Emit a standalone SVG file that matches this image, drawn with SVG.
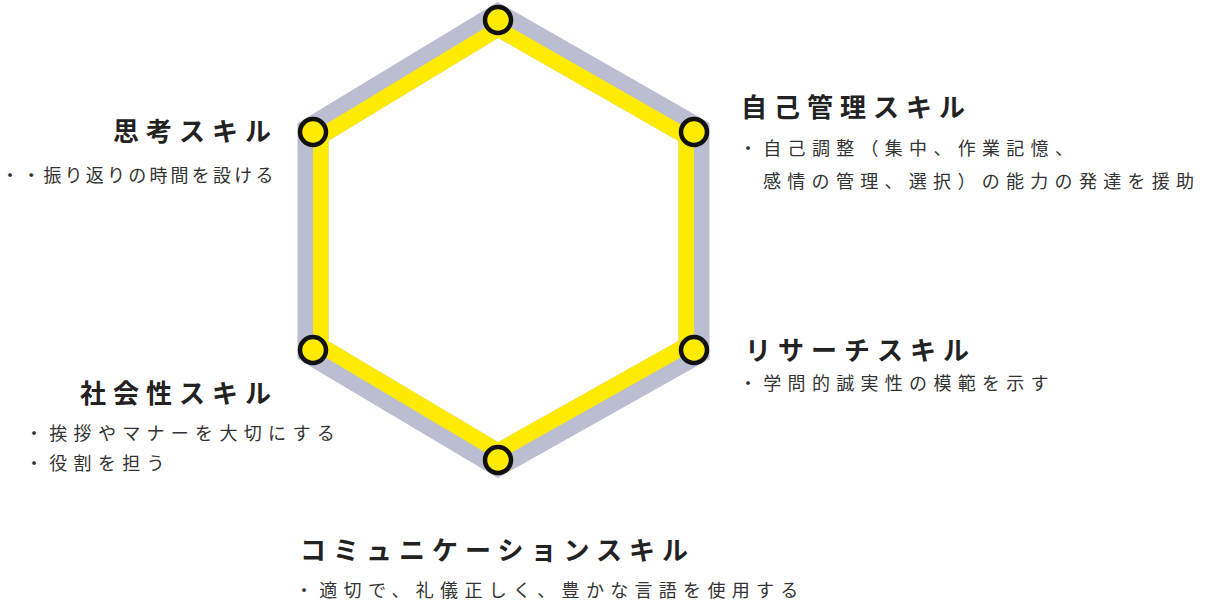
<svg xmlns="http://www.w3.org/2000/svg" width="1209" height="604" viewBox="0 0 1209 604">
<defs>
<style>
.title{font-family:"Noto Sans CJK JP","Noto Sans",sans-serif;font-size:26px;font-weight:700;fill:#222;letter-spacing:7px}
.sub{font-family:"Noto Sans CJK JP","Noto Sans",sans-serif;font-size:18px;font-weight:400;fill:#333;letter-spacing:6.3px}
.dot{fill:#FFEB00;stroke:#111;stroke-width:4.5}
</style>
<clipPath id="inner"><polygon points="498,20 694,132 694,350 498,460 313,350 313,132"/></clipPath>
</defs>
<rect width="1209" height="604" fill="#fff"/>
<g id="connectors">
<polygon points="498,20 694,132 694,350 498,460 313,350 313,132" fill="none" stroke="#BBBDD0" stroke-width="31" stroke-linejoin="miter"/>
<polygon points="498,20 694,132 694,350 498,460 313,350 313,132" fill="none" stroke="#FFEB00" stroke-width="31" stroke-linejoin="miter" clip-path="url(#inner)"/>
</g>
<g id="node-top"><circle class="dot" cx="498" cy="20" r="13"/></g>
<g id="node-self"><circle class="dot" cx="694" cy="132" r="13"/>
<text class="title" x="741" y="117">自己管理スキル</text>
<text class="sub" x="739" y="155">・自己調整（集中、作業記憶、</text>
<text class="sub" x="763" y="188">感情の管理、選択）の能力の発達を援助</text>
</g>
<g id="node-research"><circle class="dot" cx="694" cy="350" r="13"/>
<text class="title" x="745" y="360">リサーチスキル</text>
<text class="sub" x="739" y="390">・学問的誠実性の模範を示す</text>
</g>
<g id="node-comm"><circle class="dot" cx="498" cy="460" r="13"/>
<text class="title" x="300" y="560">コミュニケーションスキル</text>
<text class="sub" x="295" y="597">・適切で、礼儀正しく、豊かな言語を使用する</text>
</g>
<g id="node-social"><circle class="dot" cx="313" cy="350" r="13"/>
<text class="title" x="80" y="403">社会性スキル</text>
<text class="sub" x="25" y="440">・挨拶やマナーを大切にする</text>
<text class="sub" x="25" y="470">・役割を担う</text>
</g>
<g id="node-thinking"><circle class="dot" cx="313" cy="132" r="13"/>
<text class="title" x="113" y="141">思考スキル</text>
<text class="sub" x="1" y="182" style="letter-spacing:3.2px">・・振り返りの時間を設ける</text>
</g>
</svg>
